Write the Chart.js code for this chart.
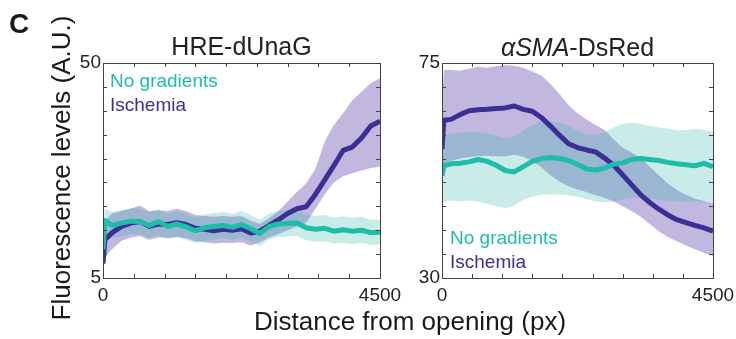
<!DOCTYPE html>
<html>
<head>
<meta charset="utf-8">
<script src="https://cdn.jsdelivr.net/npm/chart.js@4"></script>
<style>
body { margin: 0; background: #fff; }
#wrap { position: relative; width: 736px; height: 339px; }
canvas { position: absolute; left: 0; top: 0; }
</style>
</head>
<body>
<div id="wrap">
<canvas id="left" width="736" height="339"></canvas>
<canvas id="right" width="736" height="339"></canvas>
</div>
<script>
// distance from opening (px), shared by all series
const distance = [0, 30, 150, 300, 450, 600, 750, 900, 1050, 1200, 1350, 1500, 1650, 1800, 1950, 2100,
  2250, 2400, 2550, 2700, 2850, 3000, 3150, 3300, 3450, 3600, 3750, 3900, 4050, 4200, 4350, 4500];

// HRE-dUnaG panel
const hreIschemia = [8, 13, 14.5, 15.8, 16.5, 16.8, 15.8, 16.3, 16.2, 16.6, 16.2, 15.4, 15.2, 14.9, 15.2, 15.0,
  15.3, 14.4, 14.8, 16.0, 17.2, 18.5, 19.5, 19.9, 22.5, 25.5, 28.5, 31.7, 32.4, 34.3, 36.8, 37.8];
const hreIschemiaHigh = [10, 17, 18.5, 19, 19.5, 20.2, 19, 19.2, 19, 19.5, 19, 18.2, 18, 17.8, 18, 17.8,
  18, 17, 16.3, 17.5, 19, 21, 23, 24.8, 27.8, 33.5, 37, 39.5, 42.2, 44, 45.8, 46.8];
const hreIschemiaLow = [6, 9.5, 11, 12.8, 13.5, 13.8, 13, 13.5, 13.4, 13.6, 13.3, 12.7, 12.5, 12.2, 12.4, 12.3,
  12.5, 11.8, 12.5, 13.5, 14.2, 15, 15.8, 16.5, 19.5, 22.5, 25, 26.3, 26.9, 27.5, 28, 28.3];
const hreNoGrad = [11, 17, 16.0, 16.5, 16.9, 16.8, 16.0, 16.8, 15.8, 16.3, 15.7, 14.9, 15.5, 15.8, 16.0, 15.6,
  16.2, 15.3, 14.3, 15.8, 16.3, 16.4, 16.5, 15.5, 15.2, 15.4, 14.8, 15.1, 14.8, 15.0, 14.5, 14.6];
const hreNoGradHigh = [14, 19.5, 18.8, 19.2, 19.6, 19.5, 18.7, 19.4, 18.5, 19, 18.4, 17.7, 18.3, 18.6, 18.8, 18.4,
  19, 18.2, 17.2, 18.5, 19, 19.2, 19.3, 18.3, 18, 18.2, 17.6, 17.9, 17.6, 17.8, 17.2, 17.2];
const hreNoGradLow = [9, 13.5, 13.4, 13.8, 14.2, 14.1, 13.3, 14, 13.1, 13.6, 13, 12.3, 12.8, 13.1, 13.3, 12.9,
  13.5, 12.6, 11.7, 13.1, 13.6, 13.7, 13.8, 12.9, 12.6, 12.7, 12.2, 12.4, 12.1, 12.3, 11.9, 12];

// aSMA-DsRed panel
const smaIschemia = [57, 63, 63.2, 64.2, 65.0, 65.2, 65.3, 65.5, 65.6, 66.0, 65.3, 64.9, 63.6, 61.8, 59.9, 58.1,
  57.3, 56.8, 56.4, 55.1, 53.6, 51.6, 49.5, 47.4, 45.8, 44.4, 43.2, 42.2, 41.6, 41.0, 40.5, 39.8];
const smaIschemiaHigh = [66, 73.5, 73.6, 73.4, 73.8, 74.2, 74.0, 74.3, 74.6, 74.4, 74.0, 73.2, 72.4, 70.6, 68.5, 66.2,
  64.5, 63.2, 62.0, 61.0, 59.0, 57.3, 56.2, 55.1, 53.3, 51.5, 49.8, 48.4, 47.4, 46.6, 46.1, 45.7];
const smaIschemiaLow = [50, 54, 54.5, 55, 55.3, 55.5, 55.6, 55.5, 55.5, 55.8, 55.4, 54.5, 53.2, 51.5, 50.2, 49.2,
  48.5, 48.0, 47.3, 46.8, 46.0, 45.0, 44.0, 42.8, 41.3, 39.8, 38.6, 37.7, 36.8, 36.0, 35.3, 34.6];
const smaNoGrad = [51.4, 53.5, 53.9, 54.0, 54.3, 54.8, 54.4, 53.6, 52.5, 52.2, 53.3, 54.4, 55.0, 55.2, 55.0, 54.6,
  53.8, 52.8, 52.6, 53.0, 53.8, 54.1, 54.8, 55.0, 54.8, 54.6, 54.2, 53.9, 53.7, 53.5, 54.0, 53.3];
const smaNoGradHigh = [58, 60, 60.2, 60.4, 60.6, 60.5, 60.2, 59.8, 59.2, 59.6, 60.8, 62.0, 62.7, 62.8, 62.5, 61.8,
  60.8, 60.0, 60.0, 60.5, 61.5, 62.3, 62.5, 62.3, 61.8, 61.5, 61.3, 61.0, 61.0, 61.2, 61.0, 60.6];
const smaNoGradLow = [45, 46, 46.2, 46.0, 46.2, 46.0, 45.5, 45.0, 44.6, 45.2, 46.3, 47.0, 47.4, 47.5, 47.5, 47.3,
  47.0, 46.5, 46.0, 45.8, 46.0, 46.5, 46.8, 46.8, 46.6, 46.4, 46.2, 46.0, 45.9, 46.0, 46.0, 45.8];

const xTicks = [0, 500, 1000, 1500, 2000, 2500, 3000, 3500, 4000, 4500];
const hreTicks = [5, 10, 15, 20, 25, 30, 35, 40, 45, 50];
const smaTicks = [30, 35, 40, 45, 50, 55, 60, 65, 70, 75];

const TEAL = "#1ebdaa";
const PURPLE = "#3b2f96";
const FONT = "'Liberation Sans', Arial, sans-serif";

function pts(vals) {
  return vals.map((v, i) => ({ x: distance[i], y: v }));
}

function band(vals, order, fillTo, color) {
  return {
    data: pts(vals), order: order, borderWidth: 0, pointRadius: 0,
    fill: fillTo === null ? false : fillTo, backgroundColor: color
  };
}

function line(vals, order, color) {
  return {
    data: pts(vals), order: order, borderColor: color, borderWidth: 5,
    pointRadius: 0, fill: false, tension: 0, borderJoinStyle: "round"
  };
}

// box, inward ticks, end labels and panel texts
const framePlugin = {
  id: "frame",
  afterDraw(chart, args, o) {
    const { ctx, chartArea: a, scales } = chart;
    const x = scales.x, y = scales.y;
    ctx.save();
    ctx.strokeStyle = "#444";
    ctx.lineWidth = 1;
    ctx.strokeRect(Math.round(a.left) + 0.5, Math.round(a.top) + 0.5, Math.round(a.width), Math.round(a.height));
    ctx.beginPath();
    o.xTicks.forEach(v => {
      const px = Math.round(x.getPixelForValue(v)) + 0.5;
      ctx.moveTo(px, a.bottom); ctx.lineTo(px, a.bottom - 4);
      ctx.moveTo(px, a.top); ctx.lineTo(px, a.top + 4);
    });
    o.yTicks.forEach(v => {
      const py = Math.round(y.getPixelForValue(v)) + 0.5;
      ctx.moveTo(a.left, py); ctx.lineTo(a.left + 4, py);
      ctx.moveTo(a.right, py); ctx.lineTo(a.right - 4, py);
    });
    ctx.stroke();

    ctx.fillStyle = "#222";
    ctx.font = "19px " + FONT;
    ctx.textAlign = "right";
    ctx.textBaseline = "middle";
    const yEnds = [o.yTicks[0], o.yTicks[o.yTicks.length - 1]];
    yEnds.forEach(v => ctx.fillText(String(v), a.left - 2, y.getPixelForValue(v)));
    ctx.textAlign = "center";
    ctx.textBaseline = "top";
    const xEnds = [o.xTicks[0], o.xTicks[o.xTicks.length - 1]];
    xEnds.forEach(v => ctx.fillText(String(v), x.getPixelForValue(v), a.bottom + 8));

    // panel title
    ctx.textBaseline = "alphabetic";
    ctx.font = "25px " + FONT;
    const cx = (a.left + a.right) / 2;
    if (o.italicPart) {
      ctx.font = "italic 25px " + FONT;
      const w1 = ctx.measureText(o.italicPart).width;
      ctx.font = "25px " + FONT;
      const w2 = ctx.measureText(o.title).width;
      const start = cx - (w1 + w2) / 2;
      ctx.textAlign = "left";
      ctx.font = "italic 25px " + FONT;
      ctx.fillText(o.italicPart, start, o.titleY);
      ctx.font = "25px " + FONT;
      ctx.fillText(o.title, start + w1, o.titleY);
    } else {
      ctx.fillText(o.title, cx, o.titleY);
    }

    // legend text
    ctx.textAlign = "left";
    ctx.font = "19px " + FONT;
    ctx.fillStyle = TEAL;
    ctx.fillText("No gradients", o.legendX, o.legendY);
    ctx.fillStyle = PURPLE;
    ctx.fillText("Ischemia", o.legendX, o.legendY + 24);

    if (o.figureTexts) {
      ctx.fillStyle = "#1a1a1a";
      ctx.font = "bold 28px " + FONT;
      ctx.fillText("C", 9, 33);
      ctx.font = "26px " + FONT;
      ctx.textAlign = "center";
      ctx.fillText("Distance from opening (px)", 410, 330);
      ctx.translate(70, 168);
      ctx.rotate(-Math.PI / 2);
      ctx.fillText("Fluorescence levels (A.U.)", 0, 0);
    }
    ctx.restore();
  }
};

function makePanel(id, series, yMin, yMax, padding, frame) {
  const [noGrad, noGradHigh, noGradLow, isch, ischHigh, ischLow] = series;
  return new Chart(document.getElementById(id), {
    type: "line",
    data: {
      datasets: [
        line(noGrad, 0, TEAL),
        line(isch, 1, PURPLE),
        band(noGradHigh, 2, null, "transparent"),
        band(noGradLow, 3, 2, "rgba(40,180,165,0.25)"),
        band(ischHigh, 4, null, "transparent"),
        band(ischLow, 5, 4, "rgba(117,96,185,0.45)")
      ]
    },
    options: {
      responsive: false,
      animation: false,
      events: [],
      layout: { padding: padding },
      plugins: { legend: { display: false }, tooltip: { enabled: false }, frame: frame },
      scales: {
        x: { type: "linear", min: 0, max: 4500, display: false },
        y: { min: yMin, max: yMax, display: false }
      }
    },
    plugins: [framePlugin]
  });
}

makePanel("left",
  [hreNoGrad, hreNoGradHigh, hreNoGradLow, hreIschemia, hreIschemiaHigh, hreIschemiaLow],
  5, 50, { left: 103, right: 356, top: 63, bottom: 61 },
  { xTicks: xTicks, yTicks: hreTicks, title: "HRE-dUnaG", titleY: 55,
    legendX: 110, legendY: 87, figureTexts: true });

makePanel("right",
  [smaNoGrad, smaNoGradHigh, smaNoGradLow, smaIschemia, smaIschemiaHigh, smaIschemiaLow],
  30, 75, { left: 442, right: 23, top: 63, bottom: 61 },
  { xTicks: xTicks, yTicks: smaTicks, italicPart: "αSMA", title: "-DsRed", titleY: 56,
    legendX: 450, legendY: 244, figureTexts: false });
</script>
</body>
</html>
